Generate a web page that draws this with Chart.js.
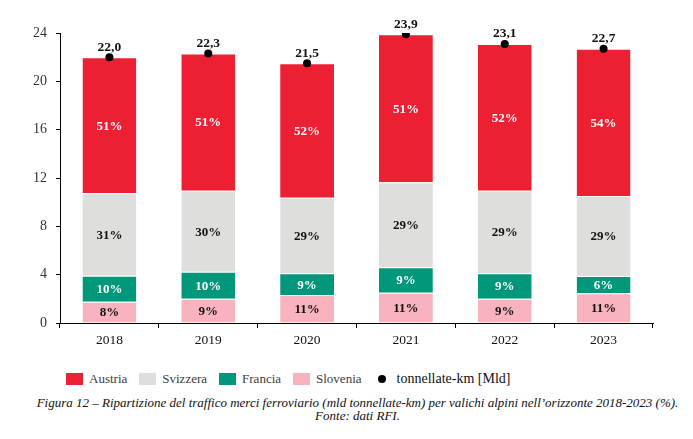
<!DOCTYPE html>
<html>
<head>
<meta charset="utf-8">
<script src="https://cdn.jsdelivr.net/npm/chart.js@4/dist/chart.umd.min.js"></script>
<style>
  body { margin: 0; background: #fff; }
  #wrap { position: relative; width: 693px; height: 439px; font-family: "Liberation Serif", serif; }
  #chartBox { position: absolute; left: 0; top: 0; width: 693px; height: 355px; }
  .legend { position: absolute; top: 372px; left: 66px; display: flex; align-items: center; height: 13px; color: #404040; font-size: 13px; }
  .legend .sw { width: 17px; height: 12px; margin-right: 6px; }
  .legend .item { display: flex; align-items: center; margin-right: 12px; }
  .legend .dot { width: 8px; height: 8px; border-radius: 50%; background: #000; margin: 0 11px 0 4px; }
  .legend .big { font-size: 14px; color: #111; }
  .caption { position: absolute; top: 396px; left: 22px; width: 671px; text-align: center; font-style: italic; font-size: 13px; line-height: 13px; color: #111; }
</style>
</head>
<body>
<div id="wrap">
  <div id="chartBox"><canvas id="chart"></canvas></div>
  <div class="legend" id="legend"></div>
  <div class="caption">Figura 12 – Ripartizione del traffico merci ferroviario (mld tonnellate-km) per valichi alpini nell’orizzonte 2018-2023 (%).<br>Fonte: dati RFI.</div>
</div>
<script>
// data (mld tonnellate-km)
const years = ["2018", "2019", "2020", "2021", "2022", "2023"];
const slovenia = [1.76, 2.0, 2.32, 2.51, 2.01, 2.46];
const francia = [2.16, 2.25, 1.79, 2.10, 2.10, 1.43];
const svizzera = [6.82, 6.70, 6.26, 7.04, 6.84, 6.62];
const austria = [11.26, 11.35, 11.13, 12.25, 12.15, 12.19];
const totals = [22.0, 22.3, 21.5, 23.9, 23.1, 22.7];
const totalLabels = ["22,0", "22,3", "21,5", "23,9", "23,1", "22,7"];

const pctSlovenia = ["8%", "9%", "11%", "11%", "9%", "11%"];
const pctFrancia = ["10%", "10%", "9%", "9%", "9%", "6%"];
const pctSvizzera = ["31%", "30%", "29%", "29%", "29%", "29%"];
const pctAustria = ["51%", "51%", "52%", "51%", "52%", "54%"];

const colAustria = "#ED1F32";
const colSvizzera = "#DEDEDC";
const colFrancia = "#00977A";
const colSlovenia = "#F9B3BF";

// legend (custom, to match the picture)
const legendEl = document.getElementById("legend");
[["Austria", colAustria], ["Svizzera", colSvizzera], ["Francia", colFrancia], ["Slovenia", colSlovenia]].forEach(([name, col]) => {
  let item = document.createElement("div");
  item.className = "item";
  let sw = document.createElement("div");
  sw.className = "sw";
  sw.style.background = col;
  let txt = document.createElement("span");
  txt.innerText = name;
  item.append(sw, txt);
  legendEl.append(item);
});
let dotItem = document.createElement("div");
dotItem.className = "item";
dotItem.innerHTML = '<div class="dot"></div><span class="big">tonnellate-km [Mld]</span>';
legendEl.append(dotItem);

const labelPlugin = {
  id: "segLabels",
  afterDatasetsDraw(chart) {
    const ctx = chart.ctx;
    const sets = [
      [0, pctSlovenia, "#111"],
      [1, pctFrancia, "#fff"],
      [2, pctSvizzera, "#111"],
      [3, pctAustria, "#fff"],
    ];
    ctx.save();
    ctx.textAlign = "center";
    ctx.textBaseline = "middle";
    ctx.font = "bold 13px 'Liberation Serif'";
    sets.forEach(([idx, texts, color]) => {
      chart.getDatasetMeta(idx).data.forEach((bar, i) => {
        const p = bar.getProps(["x", "y", "base"], true);
        ctx.fillStyle = color;
        ctx.fillText(texts[i], p.x, (p.y + p.base) / 2 + 1);
      });
    });
    ctx.font = "bold 13.5px 'Liberation Serif'";
    ctx.fillStyle = "#111";
    chart.getDatasetMeta(4).data.forEach((pt, i) => {
      ctx.fillText(totalLabels[i], pt.x, pt.y - 10);
    });
    ctx.restore();
  },
};

new Chart(document.getElementById("chart").getContext("2d"), {
  data: {
    labels: years,
    datasets: [
      { type: "bar", label: "Slovenia", data: slovenia, backgroundColor: colSlovenia },
      { type: "bar", label: "Francia", data: francia, backgroundColor: colFrancia },
      { type: "bar", label: "Svizzera", data: svizzera, backgroundColor: colSvizzera },
      { type: "bar", label: "Austria", data: austria, backgroundColor: colAustria },
      {
        type: "line",
        label: "tonnellate-km [Mld]",
        data: totals,
        stack: "tot",
        order: -1,
        showLine: false,
        pointRadius: 4,
        pointBackgroundColor: "#000",
        pointBorderWidth: 0,
        borderColor: "#000",
      },
    ].map((d) =>
      d.type === "bar"
        ? Object.assign(d, {
            borderColor: "#fff",
            borderWidth: { top: 1, left: 0, right: 0, bottom: 0 },
            borderSkipped: false,
            barPercentage: 0.545,
            categoryPercentage: 1,
          })
        : d
    ),
  },
  options: {
    responsive: true,
    maintainAspectRatio: false,
    animation: false,
    layout: { padding: { top: 33, right: 40, left: 0, bottom: 0 } },
    plugins: { legend: { display: false }, tooltip: { enabled: false } },
    scales: {
      x: {
        stacked: true,
        afterFit: (s) => { s.height = 32; },
        grid: { offset: true, drawOnChartArea: false, tickLength: 5, color: "#000" },
        border: { color: "#000", width: 1 },
        ticks: { color: "#111", padding: 4, font: { family: "Liberation Serif", size: 13.5 } },
      },
      y: {
        stacked: true,
        min: 0,
        max: 24,
        afterFit: (s) => { s.width = 60; },
        grid: { drawOnChartArea: false, tickLength: 4, color: "#000" },
        border: { color: "#000", width: 1 },
        ticks: { stepSize: 4, color: "#333", padding: 9, font: { family: "Liberation Serif", size: 14 } },
      },
    },
  },
  plugins: [labelPlugin],
});
</script>
</body>
</html>
